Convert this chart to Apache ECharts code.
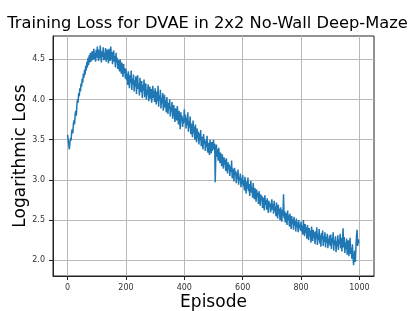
<!DOCTYPE html>
<html>
<head>
<meta charset="utf-8">
<script src="https://cdn.jsdelivr.net/npm/echarts@6/dist/echarts.min.js"></script>
<style>
html,body{margin:0;padding:0;background:#fff;}
#chart{width:415px;height:311px;}
</style>
</head>
<body>
<div id="chart"></div>
<script>
const chartTitle = 'Training Loss for DVAE in 2x2 No-Wall Deep-Maze';
const xName = 'Episode';
const yName = 'Logarithmic Loss';
const xTicks = [0, 200, 400, 600, 800, 1000];
const yTicks = [2.0, 2.5, 3.0, 3.5, 4.0, 4.5];
const episodeStep = 2;
const loss = [
  3.56, 3.50, 3.44, 3.38, 3.47, 3.52, 3.49, 3.60, 3.63, 3.58, 3.70, 3.74, 3.69, 3.82, 3.86, 3.80, 3.94, 4.00, 3.96, 4.08, 4.04, 4.14, 4.10, 4.20, 4.16,
  4.26, 4.21, 4.32, 4.27, 4.37, 4.31, 4.42, 4.36, 4.47, 4.40, 4.52, 4.43, 4.55, 4.46, 4.58, 4.47, 4.53, 4.60, 4.49, 4.56, 4.63, 4.50, 4.58, 4.47, 4.62,
  4.52, 4.66, 4.55, 4.48, 4.62, 4.51, 4.67, 4.54, 4.46, 4.60, 4.53, 4.65, 4.49, 4.58, 4.50, 4.64, 4.47, 4.57, 4.62, 4.52, 4.45, 4.63, 4.55, 4.48, 4.66,
  4.50, 4.59, 4.44, 4.56, 4.61, 4.47, 4.54, 4.40, 4.58, 4.46, 4.52, 4.38, 4.49, 4.43, 4.35, 4.50, 4.41, 4.32, 4.46, 4.37, 4.28, 4.44, 4.33, 4.39, 4.26,
  4.38, 4.24, 4.32, 4.18, 4.35, 4.27, 4.14, 4.30, 4.21, 4.36, 4.12, 4.26, 4.19, 4.31, 4.10, 4.24, 4.16, 4.29, 4.07, 4.22, 4.30, 4.13, 4.20, 4.05, 4.27,
  4.15, 4.09, 4.23, 4.02, 4.18, 4.11, 4.25, 4.03, 4.14, 4.20, 4.00, 4.12, 4.06, 4.19, 3.98, 4.10, 4.16, 4.01, 4.13, 3.96, 4.08, 4.17, 4.02, 4.11, 3.97,
  4.14, 4.03, 3.94, 4.10, 3.98, 4.17, 3.91, 4.05, 3.99, 4.12, 3.89, 4.02, 3.95, 4.08, 3.86, 3.97, 4.06, 3.90, 3.99, 3.84, 4.03, 3.92, 3.82, 3.96, 3.88,
  4.00, 3.79, 3.91, 3.85, 3.97, 3.76, 3.88, 3.93, 3.80, 3.72, 3.89, 3.83, 3.74, 3.92, 3.78, 3.69, 3.86, 3.75, 3.63, 3.84, 3.73, 3.80, 3.66, 3.77, 3.70,
  3.88, 3.72, 3.81, 3.64, 3.77, 3.68, 3.84, 3.60, 3.73, 3.65, 3.79, 3.57, 3.70, 3.62, 3.53, 3.74, 3.58, 3.66, 3.50, 3.69, 3.56, 3.47, 3.64, 3.52, 3.60,
  3.44, 3.58, 3.49, 3.62, 3.42, 3.54, 3.46, 3.38, 3.57, 3.45, 3.51, 3.36, 3.48, 3.41, 3.55, 3.34, 3.46, 3.39, 3.31, 3.50, 3.40, 3.33, 3.47, 3.36, 3.43,
  3.50, 3.38, 3.45, 2.97, 3.35, 3.44, 3.29, 3.38, 3.24, 3.40, 3.30, 3.21, 3.34, 3.26, 3.17, 3.32, 3.22, 3.14, 3.28, 3.19, 3.25, 3.11, 3.27, 3.16, 3.08,
  3.22, 3.13, 3.19, 3.05, 3.17, 3.10, 3.24, 3.02, 3.14, 3.07, 2.98, 3.15, 3.06, 3.11, 2.96, 3.09, 3.01, 3.13, 2.94, 3.04, 2.99, 3.08, 2.91, 3.02, 2.95,
  3.06, 2.92, 3.00, 2.87, 3.04, 2.94, 2.83, 2.98, 2.89, 3.03, 2.86, 2.95, 2.80, 2.93, 2.99, 2.84, 2.91, 2.78, 2.96, 2.85, 2.76, 2.90, 2.82, 2.73, 2.88,
  2.79, 2.84, 2.70, 2.86, 2.77, 2.68, 2.82, 2.74, 2.80, 2.65, 2.78, 2.71, 2.62, 2.81, 2.69, 2.75, 2.63, 2.77, 2.67, 2.59, 2.74, 2.66, 2.71, 2.60, 2.68,
  2.76, 2.63, 2.70, 2.58, 2.74, 2.61, 2.67, 2.55, 2.72, 2.60, 2.52, 2.69, 2.57, 2.64, 2.50, 2.66, 2.58, 2.48, 2.63, 2.55, 2.82, 2.52, 2.61, 2.47, 2.59,
  2.53, 2.44, 2.62, 2.50, 2.56, 2.42, 2.58, 2.47, 2.39, 2.55, 2.45, 2.51, 2.38, 2.54, 2.43, 2.49, 2.36, 2.52, 2.41, 2.47, 2.35, 2.50, 2.40, 2.44, 2.37,
  2.48, 2.36, 2.43, 2.32, 2.50, 2.38, 2.30, 2.45, 2.34, 2.41, 2.27, 2.44, 2.33, 2.25, 2.40, 2.30, 2.37, 2.22, 2.42, 2.31, 2.24, 2.38, 2.28, 2.35, 2.20,
  2.36, 2.27, 2.41, 2.19, 2.33, 2.25, 2.39, 2.21, 2.31, 2.17, 2.34, 2.26, 2.37, 2.18, 2.30, 2.23, 2.35, 2.16, 2.29, 2.22, 2.33, 2.15, 2.27, 2.20, 2.31,
  2.18, 2.32, 2.14, 2.27, 2.21, 2.35, 2.12, 2.25, 2.19, 2.30, 2.10, 2.24, 2.17, 2.31, 2.13, 2.26, 2.20, 2.33, 2.15, 2.28, 2.11, 2.23, 2.40, 2.16, 2.29,
  2.09, 2.22, 2.14, 2.27, 2.07, 2.19, 2.25, 2.05, 2.18, 2.28, 2.08, 2.15, 2.02, 2.20, 2.06, 1.94, 2.04, 2.12, 1.98, 2.16, 2.30, 2.38, 2.18, 2.26, 2.21
];

const seriesData = loss.map((v, i) => [i * episodeStep, v]);
const font = 'DejaVu Sans';
const chart = echarts.init(document.getElementById('chart'), null, {renderer: 'canvas'});
chart.setOption({
  animation: false,
  backgroundColor: '#fff',
  title: {
    text: chartTitle,
    left: 'center',
    top: 11,
    textStyle: {fontFamily: font, fontSize: 16.3, fontWeight: 'normal', color: '#000'}
  },
  grid: {
    left: 53, right: 41, top: 36, bottom: 35,
    outerBoundsMode: 'none',
    containLabel: false,
    show: true, borderColor: '#222', borderWidth: 1, backgroundColor: 'transparent'
  },
  xAxis: {
    type: 'value',
    min: -50, max: 1050,
    name: xName,
    nameLocation: 'middle',
    nameGap: 18,
    nameMoveOverlap: false,
    nameTextStyle: {fontFamily: font, fontSize: 17, color: '#000'},
    axisLine: {show: true, onZero: false, lineStyle: {color: '#222', width: 1}},
    axisTick: {show: true, customValues: xTicks, length: 4, lineStyle: {color: '#222'}},
    axisLabel: {customValues: xTicks, fontFamily: font, fontSize: 8, color: '#333', margin: 8,
      formatter: v => String(v)},
    splitLine: {show: true, lineStyle: {color: '#b8b8b8', width: 1}}
  },
  yAxis: {
    type: 'value',
    min: 1.805, max: 4.79,
    name: yName,
    nameLocation: 'middle',
    nameGap: 24,
    nameMoveOverlap: false,
    nameTextStyle: {fontFamily: font, fontSize: 17, color: '#000'},
    axisLine: {show: true, onZero: false, lineStyle: {color: '#222', width: 1}},
    axisTick: {show: true, customValues: yTicks, length: 4, lineStyle: {color: '#222'}},
    axisLabel: {customValues: yTicks, fontFamily: font, fontSize: 8, color: '#333', margin: 8,
      formatter: v => v.toFixed(1)},
    splitLine: {show: true, lineStyle: {color: '#b8b8b8', width: 1}}
  },
  series: [{
    type: 'line',
    data: seriesData,
    showSymbol: false,
    symbol: 'none',
    sampling: null,
    lineStyle: {color: '#1f77b4', width: 1.5},
    clip: true
  }]
});
</script>
</body>
</html>
